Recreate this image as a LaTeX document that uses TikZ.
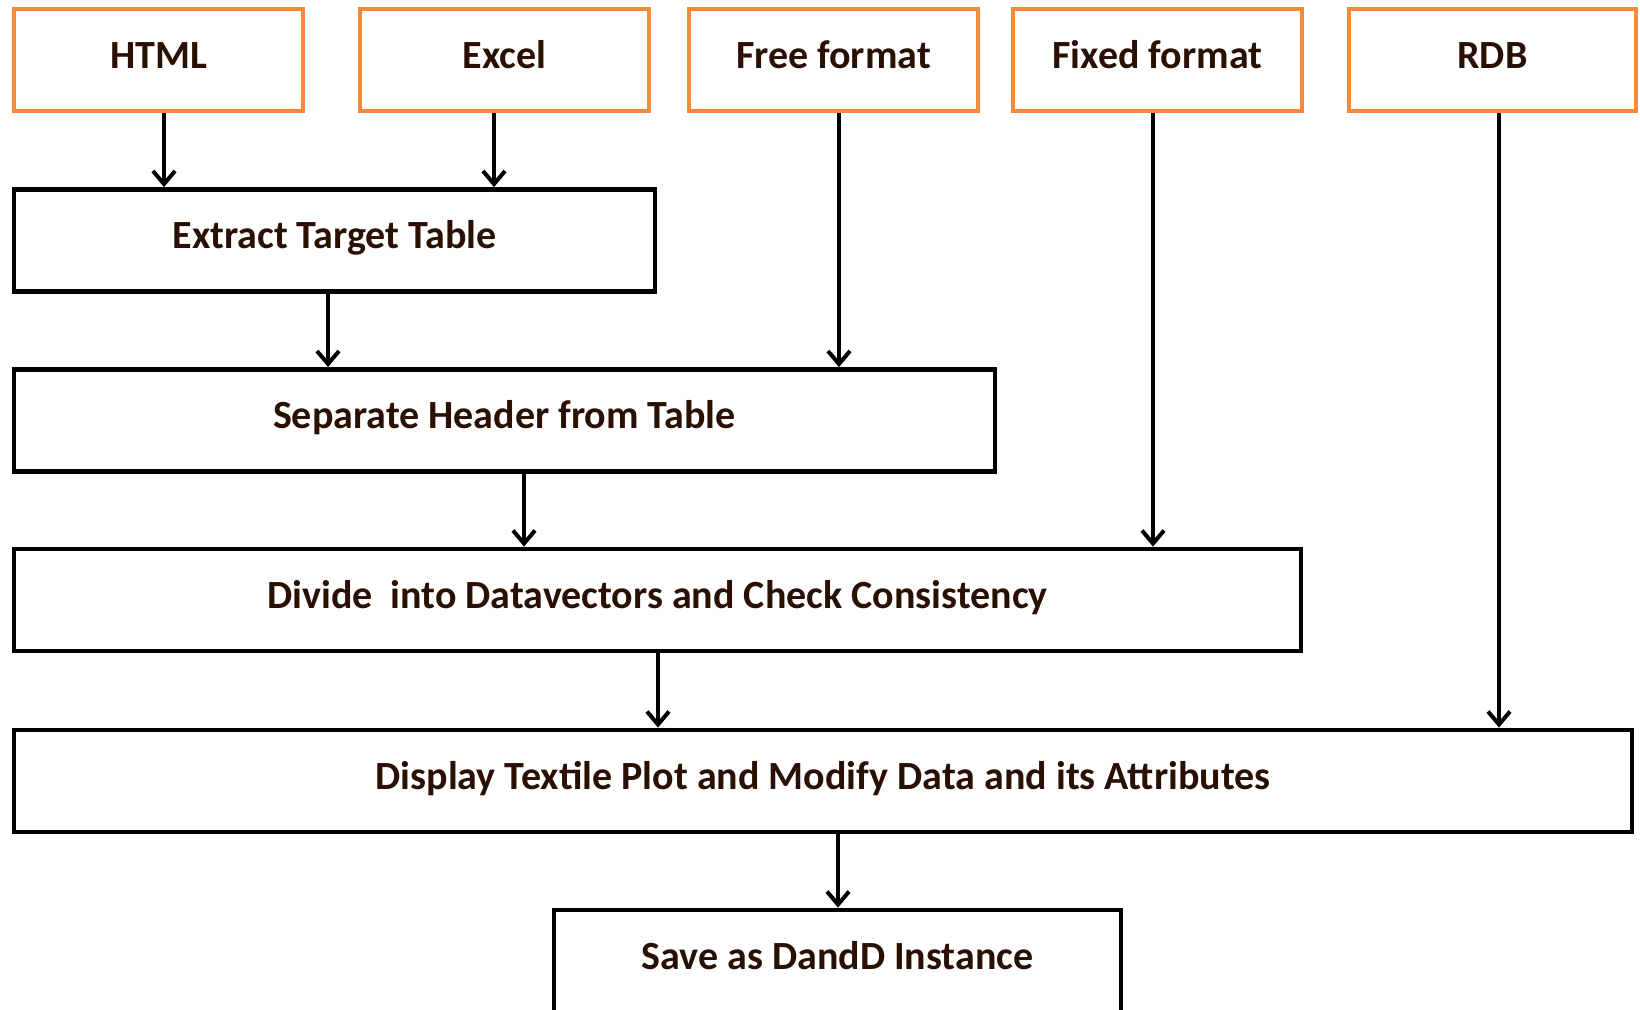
\documentclass[tikz,border=0pt]{standalone}
\usepackage{fontspec}
\setmainfont{Carlito}
\usetikzlibrary{arrows.meta}
\definecolor{boxorange}{HTML}{F5893A}
\definecolor{txtdark}{HTML}{2A1003}
\tikzset{
  boxtext/.style={inner sep=0pt, text=txtdark, text height=14pt, text depth=6pt, font=\fontsize{20}{24}\selectfont\bfseries},
  srcbox/.style={boxtext, draw=boxorange, line width=2.2pt, minimum width=289*0.5pt, minimum height=102*0.5pt},
  procbox/.style={boxtext, draw=black, line width=2.4pt, minimum height=102*0.5pt},
  arr/.style={draw=black, line width=1.9pt, -{Straight Barb[length=6.5pt,width=11pt,line width=2pt]}}
}
\begin{document}
\begin{tikzpicture}[x=0.5pt,y=-0.5pt]
\useasboundingbox (0,0) rectangle (1640,1009);
\node[srcbox] (html)  at (158.5,60)  {HTML};
\node[srcbox] (excel) at (504.5,60)  {Excel};
\node[srcbox] (free)  at (833.5,60)  {Free format};
\node[srcbox] (fixed) at (1157.5,60) {Fixed format};
\node[srcbox, minimum width=287*0.5pt] (rdb) at (1492.5,60) {RDB};
\node[procbox, minimum width=641*0.5pt]  (extract) at (334.5,240.5) {Extract Target Table};
\node[procbox, minimum width=981*0.5pt]  (separate) at (504.5,420.5) {Separate Header from Table};
\node[procbox, minimum width=1287*0.5pt] (divide) at (657.5,600) {Divide\ \ into Datavectors and Check Consistency};
\node[procbox, minimum width=1618*0.5pt] (display) at (823,781) {Display Textile Plot and Modify Data and its Attributes};
\node[procbox, minimum width=567*0.5pt] (save) at (837.5,961) {Save as DandD Instance};
\draw[arr] (html.south -| 164,0) -- (extract.north -| 164,0);
\draw[arr] (excel.south -| 494,0) -- (extract.north -| 494,0);
\draw[arr] (extract.south -| 328,0) -- (separate.north -| 328,0);
\draw[arr] (free.south -| 839,0) -- (separate.north -| 839,0);
\draw[arr] (separate.south -| 524,0) -- (divide.north -| 524,0);
\draw[arr] (fixed.south -| 1153,0) -- (divide.north -| 1153,0);
\draw[arr] (divide.south -| 658,0) -- (display.north -| 658,0);
\draw[arr] (rdb.south -| 1499,0) -- (display.north -| 1499,0);
\draw[arr] (display.south -| 838,0) -- (save.north -| 838,0);
\end{tikzpicture}
\end{document}
